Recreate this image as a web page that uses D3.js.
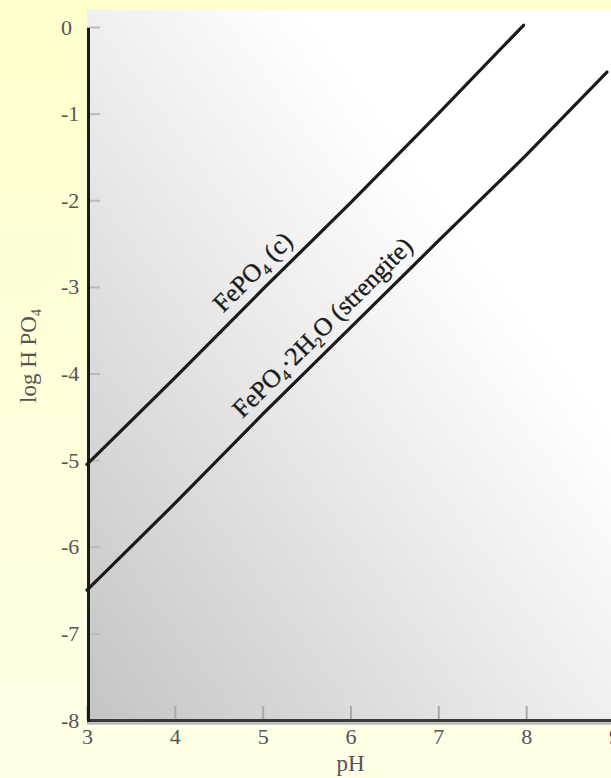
<!DOCTYPE html>
<html>
<head>
<meta charset="utf-8">
<script src="https://cdn.jsdelivr.net/npm/d3@7"></script>
<style>
  html, body { margin: 0; padding: 0; background: #ffffdc; }
  svg { display: block; }
</style>
</head>
<body>
<svg id="chart" width="611" height="778"></svg>
<script>
// ---- data ----
const xTicks = [3, 4, 5, 6, 7, 8, 9];
const yTicks = [0, -1, -2, -3, -4, -5, -6, -7, -8];

// FePO4 (c)
const fepoPH  = [3, 4, 5, 6, 7, 7.97];
const fepoLog = [-5.05, -4.05, -3.03, -2.03, -1.0, 0.02];

// FePO4·2H2O (strengite)
const strPH  = [3, 4, 5, 6, 7, 8, 8.92];
const strLog = [-6.5, -5.5, -4.47, -3.47, -2.47, -1.48, -0.52];

const xLabel = "pH";

// ---- layout ----
const W = 611, H = 778;
const svg = d3.select("#chart");
const defs = svg.append("defs");

const bg = defs.append("linearGradient").attr("id", "bg")
  .attr("x1", 0).attr("y1", 0).attr("x2", 0).attr("y2", 1);
bg.append("stop").attr("offset", 0).attr("stop-color", "#ffffcc");
bg.append("stop").attr("offset", 1).attr("stop-color", "#ffffe8");

const pg = defs.append("linearGradient").attr("id", "panel")
  .attr("x1", 0).attr("y1", 1).attr("x2", 1).attr("y2", 0);
pg.append("stop").attr("offset", 0).attr("stop-color", "#c4c4c4");
pg.append("stop").attr("offset", 0.45).attr("stop-color", "#ebebeb");
pg.append("stop").attr("offset", 0.7).attr("stop-color", "#ffffff");
pg.append("stop").attr("offset", 1).attr("stop-color", "#ffffff");

svg.append("rect").attr("width", W).attr("height", H).attr("fill", "url(#bg)");

const x = d3.scaleLinear().domain([3, 9]).range([87, 614]);
const y = d3.scaleLinear().domain([-8, 0]).range([720, 27]);

// panel
svg.append("rect")
  .attr("x", x(3)).attr("y", 10)
  .attr("width", W - x(3)).attr("height", y(-8) + 4 - 10)
  .attr("fill", "url(#panel)");

const serif = "'Liberation Serif', 'Times New Roman', 'DejaVu Serif', serif";

// x axis
const xAxis = d3.axisBottom(x).tickValues(xTicks).tickSize(-14).tickFormat(d3.format("d"));
const gx = svg.append("g").attr("transform", `translate(0,${y(-8)})`).call(xAxis);
gx.select(".domain").remove();
gx.selectAll(".tick line").attr("stroke", "#aaaaaa").attr("stroke-width", 2);
gx.selectAll(".tick text")
  .attr("y", 24).attr("dy", 0)
  .attr("fill", "#555").style("font-family", serif).style("font-size", "22px");

// y axis
const yAxis = d3.axisLeft(y).tickValues(yTicks).tickSize(-13)
  .tickFormat(d => d === 0 ? "0" : "-" + Math.abs(d));
const gy = svg.append("g").attr("transform", `translate(${x(3)},0)`).call(yAxis);
gy.select(".domain").remove();
gy.selectAll(".tick line").attr("stroke", "#bbbbbb").attr("stroke-width", 2);
gy.selectAll(".tick text")
  .attr("text-anchor", "start").attr("x", -26).attr("dy", "0.32em")
  .attr("fill", "#555").style("font-family", serif).style("font-size", "22px");

// axis lines
svg.append("line")
  .attr("x1", x(3)).attr("x2", W).attr("y1", y(-8) + 3.5).attr("y2", y(-8) + 3.5)
  .attr("stroke", "#bbbbbb").attr("stroke-width", 2.5);
svg.append("line")
  .attr("x1", x(3)).attr("x2", W).attr("y1", y(-8) + 0.5).attr("y2", y(-8) + 0.5)
  .attr("stroke", "#3a3a3a").attr("stroke-width", 3);
svg.append("line")
  .attr("x1", x(3) + 1.5).attr("x2", x(3) + 1.5).attr("y1", y(0) + 1).attr("y2", y(-8) + 2)
  .attr("stroke", "#1a1a1a").attr("stroke-width", 3);

// axis titles
svg.append("text")
  .attr("x", x(6)).attr("y", 771)
  .attr("text-anchor", "middle").attr("fill", "#555")
  .style("font-family", serif).style("font-size", "23px")
  .text(xLabel);

const yt = svg.append("text")
  .attr("transform", `translate(36,356) rotate(-90)`)
  .attr("text-anchor", "middle").attr("fill", "#555")
  .style("font-family", serif).style("font-size", "23px");
yt.append("tspan").text("log H PO");
yt.append("tspan").attr("dy", 5).style("font-size", "14px").text("4");

// lines
const line = d3.line().x(d => x(d[0])).y(d => y(d[1]));
const series = [
  { ph: fepoPH, v: fepoLog },
  { ph: strPH, v: strLog }
];
series.forEach(s => {
  svg.append("path")
    .datum(s.ph.map((p, i) => [p, s.v[i]]))
    .attr("d", line)
    .attr("fill", "none").attr("stroke", "#1a1a1a").attr("stroke-width", 3.2)
    .attr("stroke-linecap", "round");
});

// labels along the lines
function placeLabel(s, atPH, offset, parts) {
  const f = d3.scaleLinear().domain(s.ph).range(s.v);
  const p0 = [x(s.ph[0]), y(s.v[0])];
  const p1 = [x(s.ph[s.ph.length - 1]), y(s.v[s.v.length - 1])];
  const ang = Math.atan2(p1[1] - p0[1], p1[0] - p0[0]);
  const px = x(atPH), py = y(f(atPH));
  const nx = Math.sin(ang), ny = -Math.cos(ang);
  const t = svg.append("text")
    .attr("transform", `translate(${px + nx * offset},${py + ny * offset}) rotate(${ang * 180 / Math.PI})`)
    .attr("fill", "#1a1a1a").attr("stroke", "#1a1a1a").attr("stroke-width", 0.35)
    .style("font-family", serif).style("font-size", "25.5px");
  parts.forEach(pt => {
    const ts = t.append("tspan").text(pt.t);
    if (pt.sub) ts.attr("dy", 5).style("font-size", "15px");
    if (pt.back) ts.attr("dy", -5);
  });
  return t;
}
placeLabel(series[0], 4.64, 11, [
  { t: "FePO" }, { t: "4", sub: true }, { t: " (c)", back: true }
]);
placeLabel(series[1], 4.86, 11, [
  { t: "FePO" }, { t: "4", sub: true }, { t: "·2H", back: true }, { t: "2", sub: true },
  { t: "O (strengite)", back: true }
]);
</script>
</body>
</html>
